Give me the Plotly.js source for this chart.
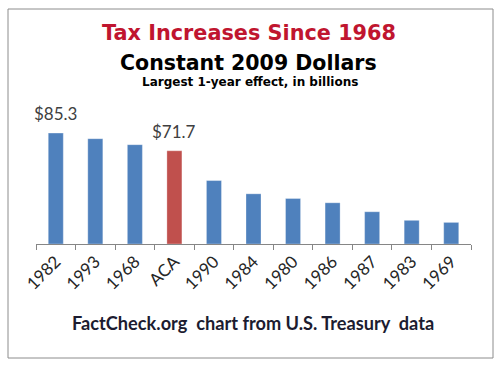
<!DOCTYPE html>
<html>
<head>
<meta charset="utf-8">
<script src="https://cdn.plot.ly/plotly-3.0.1.min.js"></script>
<style>html,body{margin:0;padding:0;background:#fff;}</style>
</head>
<body>
<div id="chart" style="width:503px;height:372px;"></div>
<script>
var categories = ["1982", "1993", "1968", "ACA", "1990", "1984", "1980", "1986", "1987", "1983", "1969"];
var values = [85.3, 81.0, 76.4, 71.7, 48.8, 38.6, 35.0, 31.7, 24.8, 18.2, 16.6];
var labeledCats = ["1982", "ACA"];
var labeledText = ["$85.3", "$71.7"];

var colors = categories.map(function(c){ return c === "ACA" ? "#C0504D" : "#4F81BD"; });

function py(p){ return (244 - p) / 117; }
function px(p){ return (p - 36) / 435; }

var annotations = labeledCats.map(function(c, i){
  var idx = categories.indexOf(c);
  return {
    x: idx, y: values[idx], xref: "x", yref: "y",
    text: labeledText[i], showarrow: false, xanchor: "center", yanchor: "bottom", yshift: 7,
    font: {family: "Lato, 'Open Sans', sans-serif", size: 17, color: "#404040"}
  };
});
function note(x, y, text, font){
  return {x: px(x), y: py(y), xref: "paper", yref: "paper", text: text, showarrow: false,
          xanchor: "center", yanchor: "middle", font: font};
}
annotations.push(
  note(249, 33, "<b>Tax Increases Since 1968</b>", {family: "DejaVu Sans, Verdana, sans-serif", size: 20.8, color: "#C0152F"}),
  note(248, 63, "<b>Constant 2009 Dollars</b>", {family: "DejaVu Sans, Verdana, sans-serif", size: 20.5, color: "#000000"}),
  note(250, 82, "<b>Largest 1-year effect, in billions</b>", {family: "DejaVu Sans, Verdana, sans-serif", size: 12, color: "#000000"}),
  note(253, 323, "<b>FactCheck.org  chart from U.S. Treasury  data</b>", {family: "Lato, 'Open Sans', sans-serif", size: 18.2, color: "#1C1C30"})
);

var trace = {
  type: "bar",
  x: categories,
  y: values,
  marker: {color: colors, line: {color: "rgba(255,255,255,0.6)", width: 0.5}},
  width: 0.38,
  hoverinfo: "none"
};

var layout = {
  width: 503, height: 372,
  margin: {l: 36, r: 32, t: 127, b: 128},
  paper_bgcolor: "#ffffff", plot_bgcolor: "#ffffff",
  showlegend: false,
  xaxis: {
    type: "category", range: [-0.5, categories.length - 0.5], autorange: false,
    showline: true, linecolor: "#868686", linewidth: 1,
    ticks: "outside", ticklen: 5, tickcolor: "#868686", tickson: "boundaries",
    tickangle: -45,
    tickfont: {family: "Lato, 'Open Sans', sans-serif", size: 17, color: "#262626"},
    showgrid: false, zeroline: false
  },
  yaxis: {
    range: [0, 90], autorange: false, visible: false, showgrid: false, zeroline: false
  },
  annotations: annotations,
  shapes: [{
    type: "rect", xref: "paper", yref: "paper",
    x0: px(8), x1: px(493), y0: py(358), y1: py(9),
    line: {color: "#8C8C8C", width: 1}, fillcolor: "rgba(0,0,0,0)", layer: "below"
  }]
};

Plotly.newPlot("chart", [trace], layout, {staticPlot: true, displayModeBar: false});
</script>
</body>
</html>
